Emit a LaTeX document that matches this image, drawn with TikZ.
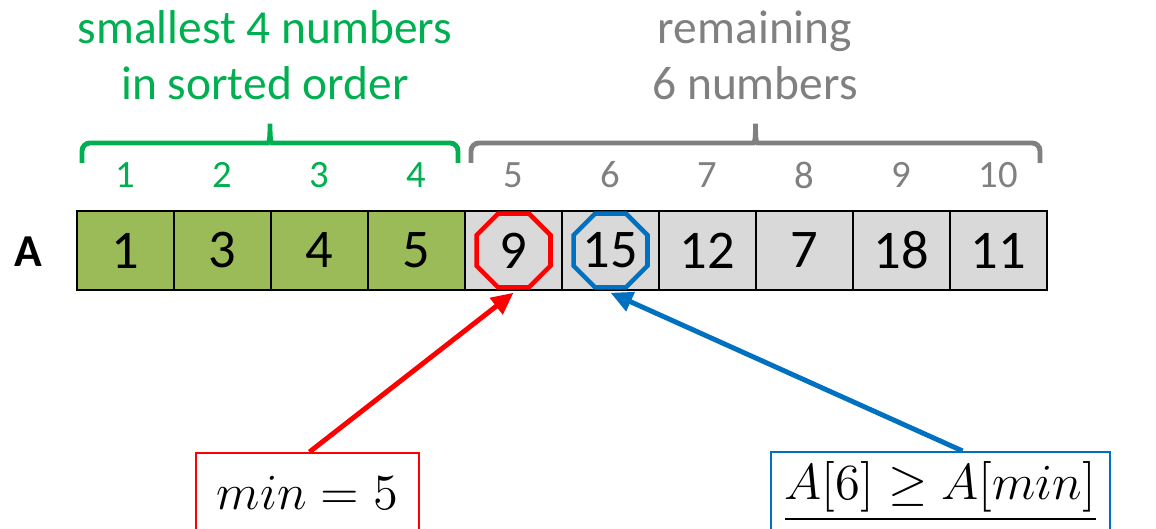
\documentclass[tikz,border=0pt]{standalone}
\usepackage[no-math]{fontspec}
\setmainfont{Carlito}
\usepackage{amsmath}
\usetikzlibrary{shapes.geometric, arrows.meta}
\definecolor{sortgreen}{HTML}{00B050}
\definecolor{restgray}{HTML}{808080}
\definecolor{cellgreen}{HTML}{9BBB59}
\definecolor{cellgray}{HTML}{D9D9D9}
\definecolor{minred}{HTML}{FF0000}
\definecolor{cmpblue}{HTML}{0070C0}

\begin{document}
\begin{tikzpicture}[%
    cell/.style={draw=black, line width=0.8pt, minimum width=0.97cm, minimum height=0.79cm, inner sep=0pt, font=\fontsize{15.5}{18}\selectfont},%
    sorted/.style={cell, fill=cellgreen},%
    rest/.style={cell, fill=cellgray},%
    idx/.style={font=\fontsize{11}{13}\selectfont},%
    title/.style={align=center, font=\fontsize{13.5}{16}\selectfont},%
    brc/.style={line width=1.4pt, rounded corners=0.08cm},%
    oct/.style={regular polygon, regular polygon sides=8, minimum size=0.8cm, inner sep=0pt, line width=1.3pt},%
    note/.style={draw, line width=0.6pt, inner sep=0pt, minimum height=0.8cm, font=\fontsize{14}{16}\selectfont},%
    pointer/.style={line width=1.4pt, -{Triangle[length=0.22cm, width=0.2cm]}}%
  ]%
  \useasboundingbox (0,0) rectangle (11.56,5.29);%
  % array cells
  \node [sorted] (c1) at (1.255,2.785) {1};%
  \node [sorted] (c2) at (2.225,2.785) {3};%
  \node [sorted] (c3) at (3.195,2.785) {4};%
  \node [sorted] (c4) at (4.165,2.785) {5};%
  \node [rest] (c5) at (5.135,2.785) {9};%
  \node [rest] (c6) at (6.105,2.785) {15};%
  \node [rest] (c7) at (7.075,2.785) {12};%
  \node [rest] (c8) at (8.045,2.785) {7};%
  \node [rest] (c9) at (9.015,2.785) {18};%
  \node [rest] (c10) at (9.985,2.785) {11};%
  \node [font=\fontsize{13}{15}\selectfont\bfseries] (lblA) at (0.28,2.77) {A};%
  % indices
  \node [idx, text=sortgreen] (i1) at (1.255,3.54) {1};%
  \node [idx, text=sortgreen] (i2) at (2.225,3.54) {2};%
  \node [idx, text=sortgreen] (i3) at (3.195,3.54) {3};%
  \node [idx, text=sortgreen] (i4) at (4.165,3.54) {4};%
  \node [idx, text=restgray] (i5) at (5.135,3.54) {5};%
  \node [idx, text=restgray] (i6) at (6.105,3.54) {6};%
  \node [idx, text=restgray] (i7) at (7.075,3.54) {7};%
  \node [idx, text=restgray] (i8) at (8.045,3.54) {8};%
  \node [idx, text=restgray] (i9) at (9.015,3.54) {9};%
  \node [idx, text=restgray] (i10) at (9.985,3.54) {10};%
  % braces and titles
  \coordinate (gl) at (0.82,3.66);%
  \coordinate (gr) at (4.58,3.66);%
  \coordinate (rl) at (4.71,3.66);%
  \coordinate (rr) at (10.40,3.66);%
  \draw [brc, sortgreen] (gl) -- ++(0,0.2) -- ++(1.78,0) to[out=0,in=-90] ++(0.1,0.24) to[out=-90,in=180] ++(0.1,-0.24) -- ++(1.78,0) -- (gr);%
  \draw [brc, restgray] (rl) -- ++(0,0.2) -- ++(2.745,0) to[out=0,in=-90] ++(0.1,0.24) to[out=-90,in=180] ++(0.1,-0.24) -- ++(2.745,0) -- (rr);%
  \node [title, text=sortgreen] (smallest) at (2.65,4.74) {smallest 4 numbers\\in sorted order};%
  \node [title, text=restgray] (remaining) at (7.55,4.74) {remaining\\6 numbers};%
  % marks
  \node [oct, draw=minred] (o5) at (c5) {};%
  \node [oct, draw=cmpblue] (o6) at (c6) {};%
  \node [note, draw=minred, minimum width=2.23cm] (minbox) at (3.075,0.36) {$min = 5$};%
  \node [note, draw=cmpblue, minimum width=3.39cm] (cmpbox) at (9.405,0.37) {\underline{$A[6] \geq A[min]$}};%
  \draw [pointer, minred] ([xshift=0.02cm]minbox.north) to ([yshift=-0.03cm]o5.south);%
  \draw [pointer, cmpblue] ([xshift=0.22cm]cmpbox.north) to ([yshift=-0.03cm]o6.south);%
\end{tikzpicture}
\end{document}
